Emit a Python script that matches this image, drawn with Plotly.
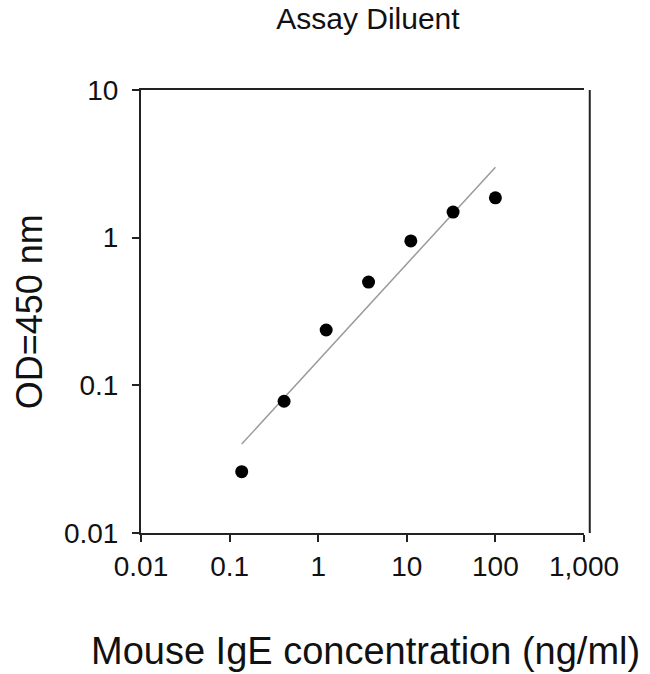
import plotly.graph_objects as go

# Mouse IgE standard curve in assay diluent
conc = [0.137, 0.412, 1.23, 3.70, 11.1, 33.3, 100]
od = [0.026, 0.078, 0.237, 0.50, 0.95, 1.49, 1.86]

# fitted line
fit_x = [0.137, 100]
fit_y = [0.040, 3.0]

x_ticks = [0.01, 0.1, 1, 10, 100, 1000]
x_labels = ["0.01", "0.1", "1", "10", "100", "1,000"]
y_ticks = [0.01, 0.1, 1, 10]
y_labels = ["0.01", "0.1", "1", "10"]

FONT = "Liberation Sans, Arial, sans-serif"

fig = go.Figure()

fig.add_trace(go.Scatter(
    x=fit_x, y=fit_y,
    mode='lines',
    line=dict(color='#9a9a9a', width=1.5),
    showlegend=False
))

fig.add_trace(go.Scatter(
    x=conc, y=od,
    mode='markers',
    marker=dict(color='black', size=13),
    showlegend=False
))

axis_style = dict(
    showgrid=False,
    zeroline=False,
    showline=True,
    linecolor='#222222',
    linewidth=2,
    ticks='outside',
    ticklen=7,
    tickwidth=1.5,
    tickcolor='#222222',
    tickfont=dict(family=FONT, size=28, color='#111111'),
    automargin=False,
)

fig.update_xaxes(
    type='log',
    range=[-2, 3],
    tickvals=x_ticks,
    ticktext=x_labels,
    mirror=True,
    ticklabelstandoff=0,
    **axis_style
)

fig.update_yaxes(
    type='log',
    range=[-2, 1],
    tickvals=y_ticks,
    ticktext=y_labels,
    ticklabelstandoff=8,
    **axis_style
)

# right border sits slightly off the plot edge
fig.add_shape(type='line', xref='paper', yref='paper',
              x0=1.013, x1=1.013, y0=0, y1=1,
              line=dict(color='#222222', width=2))

# axis titles
fig.add_annotation(text='Mouse IgE concentration (ng/ml)', xref='paper', yref='paper',
                   x=0.506, y=-0.266, xanchor='center', yanchor='middle', showarrow=False,
                   font=dict(family=FONT, size=38, color='#111111'))
fig.add_annotation(text='OD=450 nm', xref='paper', yref='paper',
                   x=-0.251, y=0.5, xanchor='center', yanchor='middle', showarrow=False,
                   textangle=-90,
                   font=dict(family=FONT, size=36, color='#111111'))

fig.update_layout(
    width=650,
    height=674,
    plot_bgcolor='white',
    paper_bgcolor='white',
    margin=dict(l=141, r=66, t=90, b=141),
    title=dict(text='Assay Diluent', x=0.566, xanchor='center', y=0.973, yanchor='middle',
               font=dict(family=FONT, size=30, color='#111111')),
)

# drop the default page margin so the figure sits at the window corner
fig.write_html("out.html", config={'displayModeBar': False},
               post_script="document.body.style.margin='0';")
